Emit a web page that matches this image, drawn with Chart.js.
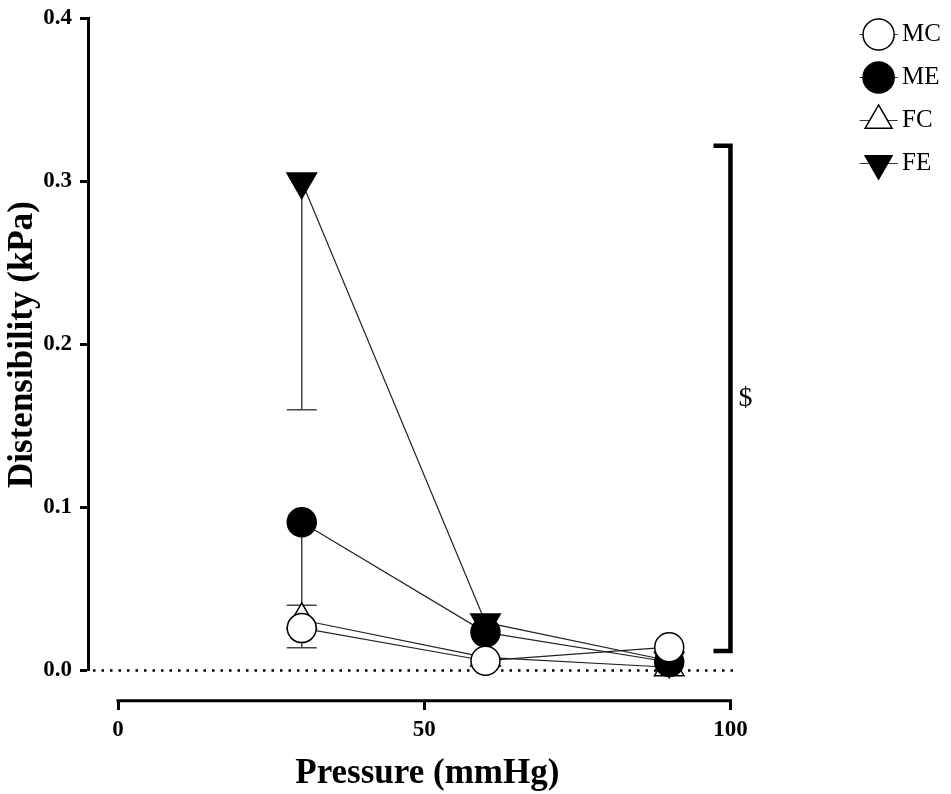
<!DOCTYPE html>
<html><head><meta charset="utf-8">
<script src="https://cdn.jsdelivr.net/npm/chart.js@4.4.0/dist/chart.umd.min.js"></script>
<style>html,body{margin:0;padding:0;background:#fff;}#wrap{width:951px;height:794px;position:relative;}</style>
</head><body><div id="wrap"><canvas id="c"></canvas></div>
<script>
// ---- data ----
const pressures = [30, 60, 90];
const seriesNames = ['MC', 'ME', 'FC', 'FE'];
const mcValues = [0.026, 0.006, 0.0143];
const meValues = [0.091, 0.0234, 0.0052];
const fcValues = [0.031, 0.008, 0.002];
const feValues = [0.300, 0.0295, 0.006];
const mcErr = [0.012, 0, 0];
const meErr = [0.051, 0, 0];
const fcErr = [0, 0, 0];
const feErr = [0.14, 0, 0];
const xTicks = [0, 50, 100];
const yTicks = [0, 0.1, 0.2, 0.3, 0.4];
const sigBracket = [0.012, 0.322];
const sigAtX = 100;
const sigLabel = '$';
const xTitle = 'Pressure (mmHg)';
const yTitle = 'Distensibility (kPa)';

const SERIF = '"Liberation Serif", "Times New Roman", serif';
const X_AXIS_AT = -0.0186;
const ZERO_LINE_END = 101;

function makeSet(label, vals, err, style, fill, rot, r) {
  return {
    label, err,
    data: pressures.map((x, i) => ({x, y: vals[i]})),
    borderColor: '#222', borderWidth: 1.2, tension: 0, clip: false,
    pointStyle: style, pointRadius: r, pointHoverRadius: r,
    pointBackgroundColor: fill, pointBorderColor: '#000', pointBorderWidth: 1.5,
    pointRotation: rot
  };
}

const datasets = [
  makeSet(seriesNames[0], mcValues, mcErr, 'circle', '#fff', 0, 14.5),
  makeSet(seriesNames[1], meValues, meErr, 'circle', '#000', 0, 14.5),
  makeSet(seriesNames[2], fcValues, fcErr, 'triangle', '#fff', 0, 17),
  makeSet(seriesNames[3], feValues, feErr, 'triangle', '#000', 180, 17)
];

const LEG_FONT = 25, LEG_BOX = 22;

const bgAndLegendStubs = {
  id: 'bgAndLegendStubs',
  beforeDraw(chart) {
    const {ctx} = chart;
    ctx.save();
    ctx.fillStyle = '#fff';
    ctx.fillRect(0, 0, chart.width, chart.height);
    const lg = chart.legend;
    if (lg && lg.legendHitBoxes) {
      ctx.strokeStyle = '#333';
      ctx.lineWidth = 1.2;
      lg.legendHitBoxes.forEach(hb => {
        const cx = hb.left + LEG_BOX / 2;
        const cy = hb.top + LEG_FONT / 2;
        ctx.beginPath();
        ctx.moveTo(cx - 19, cy);
        ctx.lineTo(cx + 19, cy);
        ctx.stroke();
      });
    }
    ctx.restore();
  }
};

const errorBarsAndZero = {
  id: 'errorBarsAndZero',
  beforeDatasetsDraw(chart) {
    const {ctx, chartArea, scales: {x, y}} = chart;
    ctx.save();
    // dotted zero reference line
    const zy = y.getPixelForValue(0);
    ctx.strokeStyle = '#000';
    ctx.lineWidth = 2.5;
    ctx.setLineDash([2.5, 6]);
    ctx.beginPath();
    ctx.moveTo(chartArea.left + 5, zy);
    ctx.lineTo(x.getPixelForValue(ZERO_LINE_END), zy);
    ctx.stroke();
    ctx.setLineDash([]);
    // error bars (lower SEM)
    ctx.strokeStyle = '#444';
    ctx.lineWidth = 1.5;
    chart.data.datasets.forEach(d => {
      d.data.forEach((p, i) => {
        const e = d.err[i];
        if (!e) return;
        const px = x.getPixelForValue(p.x);
        const py0 = y.getPixelForValue(p.y);
        const py1 = y.getPixelForValue(p.y - e);
        ctx.beginPath();
        ctx.moveTo(px, py0); ctx.lineTo(px, py1);
        ctx.moveTo(px - 15, py1); ctx.lineTo(px + 15, py1);
        ctx.stroke();
      });
    });
    ctx.restore();
  }
};

const axisAndBracket = {
  id: 'axisAndBracket',
  afterDraw(chart) {
    const {ctx, scales: {x, y}} = chart;
    ctx.save();
    // detached x axis line spanning the tick range
    const ay = y.getPixelForValue(X_AXIS_AT);
    ctx.strokeStyle = '#000';
    ctx.lineWidth = 3;
    ctx.beginPath();
    ctx.moveTo(x.getPixelForValue(xTicks[0]) - 1.5, ay);
    ctx.lineTo(x.getPixelForValue(xTicks[xTicks.length - 1]) + 1.5, ay);
    ctx.stroke();
    // significance bracket
    const bx = x.getPixelForValue(sigAtX);
    const t = y.getPixelForValue(sigBracket[1]);
    const b = y.getPixelForValue(sigBracket[0]);
    ctx.lineWidth = 4.5;
    ctx.lineJoin = 'miter';
    ctx.beginPath();
    ctx.moveTo(bx - 17, t); ctx.lineTo(bx, t); ctx.lineTo(bx, b); ctx.lineTo(bx - 17, b);
    ctx.stroke();
    ctx.fillStyle = '#000';
    ctx.font = '28px ' + SERIF;
    ctx.textAlign = 'left';
    ctx.textBaseline = 'middle';
    ctx.fillText(sigLabel, bx + 8, (t + b) / 2);
    ctx.restore();
  }
};

const zeroPad = s => { s.paddingTop = 0; s.paddingBottom = 0; };

new Chart(document.getElementById('c'), {
  type: 'line',
  data: {datasets},
  plugins: [bgAndLegendStubs, errorBarsAndZero, axisAndBracket],
  options: {
    responsive: true, maintainAspectRatio: false, animation: false,
    devicePixelRatio: 1,
    layout: {padding: {left: 0, top: 4, right: 0, bottom: 123.5}},
    plugins: {
      tooltip: {enabled: false},
      legend: {
        position: 'right', align: 'start',
        labels: {
          usePointStyle: true, boxWidth: LEG_BOX, boxHeight: LEG_BOX, padding: 18,
          color: '#000', font: {family: SERIF, size: LEG_FONT}
        }
      }
    },
    scales: {
      x: {
        type: 'linear', min: -4.9, max: 105.9, position: {y: X_AXIS_AT},
        afterBuildTicks: s => { s.ticks = xTicks.map(v => ({value: v})); },
        afterFit: s => { s.paddingLeft = 0; s.paddingRight = 0; zeroPad(s); },
        grid: {display: true, drawOnChartArea: false, drawTicks: true, tickLength: 9, tickWidth: 3, tickColor: '#000'},
        border: {display: false},
        ticks: {color: '#000', padding: 6, maxRotation: 0, font: {family: SERIF, size: 23, weight: 'bold'}},
        title: {display: true, text: xTitle, color: '#000', padding: {top: 4, bottom: 0},
          font: {family: SERIF, size: 35, weight: 'bold'}}
      },
      y: {
        type: 'linear', min: 0, max: 0.4, position: 'left',
        afterBuildTicks: s => { s.ticks = yTicks.map(v => ({value: v})); },
        afterFit: s => { s.width = 88; zeroPad(s); },
        grid: {display: true, drawOnChartArea: false, drawTicks: true, tickLength: 8, tickWidth: 3, tickColor: '#000'},
        border: {display: true, color: '#000', width: 3},
        ticks: {color: '#000', padding: 8, callback: v => v.toFixed(1),
          font: {family: SERIF, size: 23, weight: 'bold'}},
        title: {display: true, text: yTitle, color: '#000', padding: {top: 2, bottom: 0},
          font: {family: SERIF, size: 35, weight: 'bold'}}
      },
      gap: {
        type: 'linear', axis: 'y', position: 'right', display: true,
        grid: {display: false}, border: {display: false}, ticks: {display: false},
        afterFit: s => { s.width = 83; zeroPad(s); }
      }
    }
  }
});
</script>
</body></html>
